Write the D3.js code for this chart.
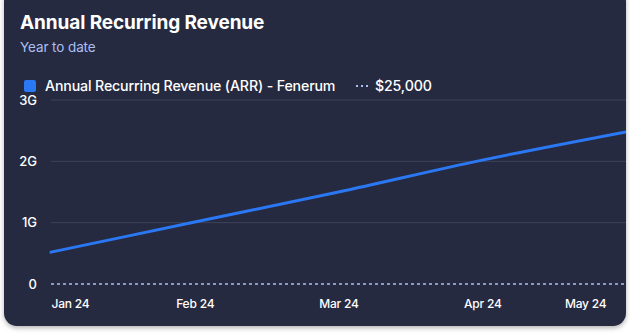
<!DOCTYPE html>
<html>
<head>
<meta charset="utf-8">
<script src="https://cdn.jsdelivr.net/npm/d3@7"></script>
<style>
  html, body { margin: 0; padding: 0; background: #ffffff; }
  body { width: 630px; height: 334px; overflow: hidden; font-family: Inter, "Noto Sans", sans-serif; }
  svg { display: block; }
</style>
</head>
<body>
<svg id="chart" width="630" height="334"></svg>
<script>
// Monthly ARR (in billions) and the flat $25,000 reference line
const months = ["Jan 24", "Feb 24", "Mar 24", "Apr 24", "May 24"];
const arrValues = [0.52, 1.01, 1.50, 2.02, 2.48];
const referenceValue = 25000 / 1e9;
const yTicks = [0, 1, 2, 3];
const yTickLabels = ["0", "1G", "2G", "3G"];

const svg = d3.select("#chart");

const defs = svg.append("defs");
const shadow = defs.append("filter").attr("id", "cardShadow")
  .attr("x", "-10%").attr("y", "-10%").attr("width", "120%").attr("height", "125%");
shadow.append("feDropShadow").attr("dx", 0).attr("dy", 2).attr("stdDeviation", 2.5)
  .attr("flood-color", "#000").attr("flood-opacity", 0.3);

const card = { x: 4, y: -12, w: 622, h: 338 };
defs.append("clipPath").attr("id", "cardClip")
  .append("rect").attr("x", card.x).attr("y", card.y).attr("width", card.w).attr("height", card.h).attr("rx", 13);

svg.append("rect")
  .attr("x", card.x).attr("y", card.y).attr("width", card.w).attr("height", card.h)
  .attr("rx", 13).attr("fill", "#252b40").attr("filter", "url(#cardShadow)");

const g = svg.append("g").attr("clip-path", "url(#cardClip)");

// Header
g.append("text").attr("x", 20).attr("y", 29)
  .attr("fill", "#ffffff").attr("font-size", 19).attr("font-weight", 700)
  .attr("letter-spacing", -0.1)
  .text("Annual Recurring Revenue");
g.append("text").attr("x", 20).attr("y", 52)
  .attr("fill", "#a9bff2").attr("font-size", 13.5)
  .attr("letter-spacing", -0.1)
  .text("Year to date");

// Legend
const legend = g.append("g");
legend.append("rect").attr("x", 24).attr("y", 80).attr("width", 12).attr("height", 12)
  .attr("rx", 2).attr("fill", "#2a78f4");
legend.append("text").attr("x", 45).attr("y", 91)
  .attr("fill", "#ffffff").attr("font-size", 14.2).attr("font-weight", 500)
  .attr("letter-spacing", -0.15)
  .text("Annual Recurring Revenue (ARR) - Fenerum");
legend.append("line").attr("x1", 356).attr("x2", 368).attr("y1", 86).attr("y2", 86)
  .attr("stroke", "#a9bff2").attr("stroke-width", 2).attr("stroke-dasharray", "2,3");
legend.append("text").attr("x", 375).attr("y", 91)
  .attr("fill", "#ffffff").attr("font-size", 14.2).attr("font-weight", 500)
  .attr("letter-spacing", -0.15)
  .text("$25,000");

// Scales
const x = d3.scalePoint().domain(months).range([51, 626]);
const y = d3.scaleLinear().domain([0, 3]).range([284, 100]);

// Gridlines
g.append("g").selectAll("line").data(yTicks.filter(d => d > 0)).join("line")
  .attr("x1", 51).attr("x2", 626)
  .attr("y1", d => y(d)).attr("y2", d => y(d))
  .attr("stroke", "#3b4359").attr("stroke-width", 1);

// Y axis labels
const yAxis = g.append("g").attr("transform", "translate(37,0)")
  .call(d3.axisLeft(y).tickValues(yTicks).tickFormat((d, i) => yTickLabels[i]).tickSize(0).tickPadding(0));
yAxis.select(".domain").remove();
yAxis.selectAll("text").attr("fill", "#ffffff").attr("font-size", 13).attr("font-weight", 500)
  .attr("font-family", "Inter, 'Noto Sans', sans-serif");

// X axis labels
const xAxis = g.append("g").attr("transform", "translate(0,299)")
  .call(d3.axisBottom(x).tickSize(0).tickPadding(0));
xAxis.select(".domain").remove();
xAxis.selectAll("text").attr("fill", "#ffffff").attr("font-size", 12).attr("font-weight", 500)
  .attr("letter-spacing", -0.2)
  .attr("font-family", "Inter, 'Noto Sans', sans-serif")
  .attr("text-anchor", (d, i) => i === 0 ? "start" : (i === months.length - 1 ? "end" : "middle"))
  .attr("dx", (d, i) => i === months.length - 1 ? -20 : 0);

// $25,000 reference line
g.append("line")
  .attr("x1", 51).attr("x2", 626)
  .attr("y1", y(referenceValue)).attr("y2", y(referenceValue))
  .attr("stroke", "#a9bff2").attr("stroke-width", 1.5).attr("stroke-dasharray", "3,3");

// ARR line
const line = d3.line().x((d, i) => x(months[i])).y(d => y(d)).curve(d3.curveMonotoneX);
g.append("path").datum(arrValues)
  .attr("d", line)
  .attr("fill", "none").attr("stroke", "#2a78f4").attr("stroke-width", 3)
  .attr("stroke-linecap", "round");
</script>
</body>
</html>
